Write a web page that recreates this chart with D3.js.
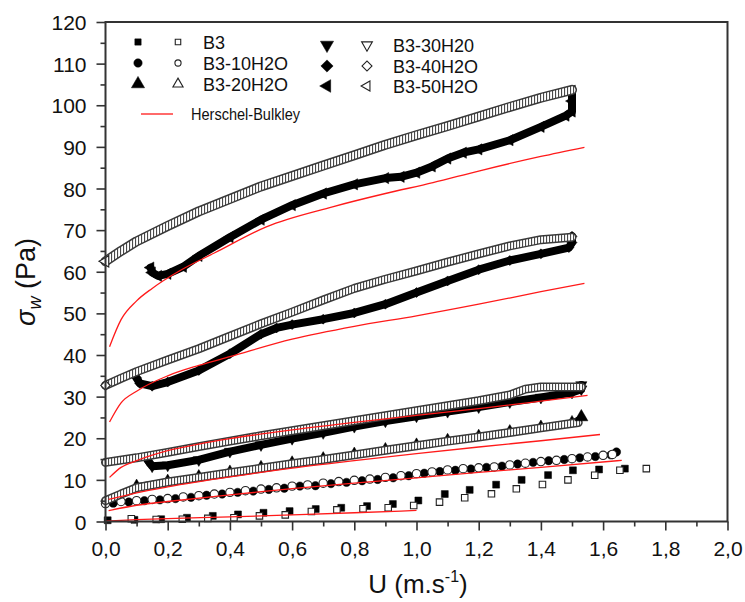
<!DOCTYPE html>
<html><head><meta charset="utf-8">
<script src="https://cdn.jsdelivr.net/npm/d3@7"></script>
<style>body{margin:0;background:#fff}svg{display:block}</style>
</head><body>
<svg id="c" width="745" height="602"></svg>
<script>
// ---------- data (U in m/s, sigma_w in Pa) ----------
const b3Filled = [[0.007,0.3],[0.093,0.4],[0.179,0.55],[0.262,0.9],[0.345,1.35],[0.426,1.7],[0.508,2.1],[0.592,2.5],[0.676,3.0],[0.758,3.3],[0.841,3.7],[0.924,4.2],[1.006,5.05],[1.091,6.6],[1.171,7.6],[1.256,8.85],[1.338,10.0],[1.423,11.15],[1.503,12.3],[1.587,12.5],[1.670,12.7]];
const b3Open = [[0.083,0.65],[0.163,0.5],[0.247,0.55],[0.329,0.75],[0.413,0.9],[0.495,1.35],[0.578,1.6],[0.662,2.4],[0.744,2.8],[0.828,3.05],[0.909,3.3],[0.991,3.85],[1.074,4.65],[1.155,5.7],[1.241,6.65],[1.321,7.85],[1.405,8.9],[1.487,10.0],[1.573,11.1],[1.654,12.3],[1.739,12.7]];
const b10Open = [[0.0,4.3],[0.05,4.8],[0.1,5.0],[0.15,5.3],[0.2,5.5],[0.25,5.9],[0.3,6.2],[0.35,6.6],[0.4,7.0],[0.45,7.4],[0.5,7.8],[0.55,8.1],[0.6,8.5],[0.65,8.8],[0.7,9.2],[0.75,9.6],[0.8,9.9],[0.85,10.2],[0.9,10.6],[0.95,11.0],[1.0,11.5],[1.05,11.9],[1.1,12.4],[1.15,12.7],[1.2,12.9],[1.25,13.1],[1.3,13.6],[1.35,14.0],[1.4,14.4],[1.45,14.7],[1.5,15.1],[1.55,15.5],[1.6,15.9],[1.63,16.1]];
const b10Filled = [[0.025,4.4],[0.075,4.7],[0.125,5.0],[0.175,5.2],[0.225,5.5],[0.275,5.8],[0.325,6.3],[0.375,6.6],[0.425,7.0],[0.475,7.3],[0.525,7.7],[0.575,8.0],[0.625,8.5],[0.675,8.6],[0.725,9.1],[0.775,9.4],[0.825,9.8],[0.875,10.1],[0.925,10.5],[0.975,11.0],[1.025,11.6],[1.075,12.0],[1.125,12.3],[1.175,12.6],[1.225,13.0],[1.275,13.3],[1.325,13.8],[1.375,14.2],[1.425,14.6],[1.475,14.9],[1.525,15.3],[1.575,15.6],[1.625,16.0],[1.643,16.7]];
const b20Filled = [[0.1,8.7],[0.2,9.9],[0.3,11.0],[0.4,12.1],[0.5,13.2],[0.6,14.3],[0.7,15.3],[0.8,16.4],[0.9,17.5],[1.0,18.6],[1.1,19.7],[1.2,20.7],[1.3,21.8],[1.4,22.9],[1.5,24.0],[1.53,25.1]];
const b20Open = [[0.0,5.0],[0.05,6.6],[0.1,8.1],[0.2,9.5],[0.3,10.6],[0.4,11.7],[0.5,12.8],[0.6,13.9],[0.7,14.9],[0.8,16.0],[0.9,17.1],[1.0,18.2],[1.1,19.3],[1.2,20.3],[1.3,21.4],[1.4,22.5],[1.52,23.8]];
const b30Filled = [[0.135,14.8],[0.15,13.3],[0.2,13.5],[0.3,14.8],[0.4,16.8],[0.5,18.4],[0.6,19.9],[0.7,21.3],[0.8,22.8],[0.9,24.1],[1.0,25.3],[1.1,26.4],[1.2,27.5],[1.3,28.7],[1.4,29.8],[1.5,31.0],[1.53,31.8],[1.53,32.8]];
const b30Open = [[0.0,14.2],[0.1,15.3],[0.2,16.6],[0.3,18.0],[0.4,19.3],[0.5,20.6],[0.6,21.8],[0.7,23.0],[0.8,24.2],[0.9,25.4],[1.0,26.6],[1.1,27.8],[1.2,29.0],[1.3,30.4],[1.35,31.8],[1.4,32.3],[1.53,32.3]];
const b40Filled = [[0.1,34.5],[0.11,33.2],[0.15,32.5],[0.2,33.5],[0.3,36.3],[0.4,40.3],[0.5,45.0],[0.55,46.5],[0.6,47.3],[0.7,48.6],[0.8,50.1],[0.9,52.2],[1.0,55.0],[1.1,57.8],[1.2,60.5],[1.3,62.7],[1.4,64.3],[1.49,65.8],[1.5,67.0],[1.5,68.5]];
const b40Open = [[0.0,32.7],[0.05,34.4],[0.1,36.0],[0.2,38.8],[0.3,41.5],[0.4,44.5],[0.5,47.5],[0.6,50.3],[0.7,53.2],[0.8,56.0],[0.9,58.2],[1.0,60.2],[1.1,62.3],[1.2,64.3],[1.3,66.2],[1.4,67.7],[1.5,68.3]];
const b50Filled = [[0.145,61.0],[0.15,59.8],[0.17,59.0],[0.2,59.5],[0.25,61.2],[0.3,63.8],[0.4,68.3],[0.5,72.5],[0.6,76.0],[0.7,78.8],[0.8,81.0],[0.9,82.5],[0.95,82.8],[1.0,83.8],[1.05,85.3],[1.1,87.2],[1.15,88.6],[1.2,89.4],[1.3,91.6],[1.4,94.8],[1.48,97.5],[1.5,98.5],[1.5,101.0],[1.5,103.5]];
const b50Open = [[0.0,62.5],[0.05,65.0],[0.1,67.3],[0.2,71.0],[0.3,74.5],[0.4,77.5],[0.5,80.5],[0.6,83.0],[0.7,85.5],[0.8,88.0],[0.9,90.5],[1.0,92.8],[1.1,95.0],[1.2,97.3],[1.3,99.6],[1.4,101.8],[1.5,103.7]];
// Herschel-Bulkley fit curves
const hbB3 = [[0.0,0.1],[0.1,0.45],[0.2,0.7],[0.4,1.1],[0.6,1.6],[0.8,2.1],[1.0,2.65]];
const hb10 = [[0.01,2.6],[0.1,3.9],[0.2,4.8],[0.4,6.4],[0.6,7.9],[0.8,9.2],[1.0,10.5],[1.2,11.8],[1.4,13.0],[1.66,14.7]];
const hb20 = [[0.01,5.3],[0.1,6.9],[0.2,8.3],[0.4,10.7],[0.6,12.8],[0.8,14.6],[1.0,16.3],[1.2,17.9],[1.4,19.4],[1.59,20.9]];
const hb30 = [[0.013,10.6],[0.05,13.0],[0.1,14.6],[0.2,17.0],[0.3,18.6],[0.4,19.9],[0.6,22.0],[0.8,23.8],[1.0,25.5],[1.2,27.1],[1.4,28.9],[1.55,30.3]];
const hb40 = [[0.013,23.9],[0.05,28.5],[0.1,31.3],[0.2,35.0],[0.3,37.5],[0.4,39.6],[0.6,43.8],[0.8,46.9],[1.0,49.4],[1.2,52.2],[1.4,55.2],[1.54,57.2]];
const hb50 = [[0.013,42.0],[0.05,48.5],[0.1,53.0],[0.15,56.0],[0.24,60.3],[0.35,64.5],[0.517,70.8],[0.73,75.6],[0.9,78.8],[1.053,81.4],[1.2,84.2],[1.4,87.7],[1.54,89.9]];
// axes & legend text
const xMajor = [0,0.2,0.4,0.6,0.8,1.0,1.2,1.4,1.6,1.8,2.0];
const xMinor = [0.1,0.3,0.5,0.7,0.9,1.1,1.3,1.5,1.7,1.9];
const yMajor = [0,10,20,30,40,50,60,70,80,90,100,110,120];
const yMinor = [5,15,25,35,45,55,65,75,85,95,105,115];
const legendCol1 = ["B3","B3-10H2O","B3-20H2O"];
const legendCol2 = ["B3-30H20","B3-40H2O","B3-50H2O"];
const fitName = "Herschel-Bulkley";

// ---------- drawing ----------
const FONT = "'Liberation Sans', Arial, sans-serif";
const svg = d3.select("#c");
const M = {l:105.5, r:727.5, t:22, b:521.5};
const x = d3.scaleLinear().domain([0,2]).range([M.l,M.r]);
const y = d3.scaleLinear().domain([0,120]).range([M.b,M.t]);

const defs = svg.append("defs");
const pat = defs.append("pattern").attr("id","hatch").attr("patternUnits","userSpaceOnUse")
  .attr("width",3).attr("height",10);
pat.append("rect").attr("width",3).attr("height",10).attr("fill","#fff");
pat.append("rect").attr("width",1.1).attr("height",10).attr("fill","#4a4a4a");

const shapes = {
  square:{t:d3.symbolSquare,r:0}, circle:{t:d3.symbolCircle,r:0},
  up:{t:d3.symbolTriangle,r:0}, down:{t:d3.symbolTriangle,r:180},
  diamond:{t:d3.symbolSquare,r:45}, left:{t:d3.symbolTriangle,r:-90}
};
function marker(g, px, py, shape, size, filled){
  const s = shapes[shape];
  g.append("path").attr("d", d3.symbol().type(s.t).size(size)())
    .attr("transform", `translate(${px},${py}) rotate(${s.r})`)
    .attr("fill", filled ? "#000" : "#fff")
    .attr("stroke", filled ? "#000" : "#222")
    .attr("stroke-width", filled ? 0.5 : 1.1);
}
function markers(g, data, shape, size, filled){
  data.forEach(d => marker(g, x(d[0]), y(d[1]), shape, size, filled));
}
const lin = d3.line().x(d=>x(d[0])).y(d=>y(d[1]));
function filledBand(g, data, w){
  g.append("path").attr("d", lin(data)).attr("fill","none").attr("stroke","#000")
   .attr("stroke-width", w).attr("stroke-linejoin","round").attr("stroke-linecap","round");
}
function openBand(g, data, w){
  g.append("path").attr("d", lin(data)).attr("fill","none").attr("stroke","#3a3a3a")
   .attr("stroke-width", w).attr("stroke-linejoin","round").attr("stroke-linecap","round");
  g.append("path").attr("d", lin(data)).attr("fill","none").attr("stroke","url(#hatch)")
   .attr("stroke-width", w-3).attr("stroke-linejoin","round").attr("stroke-linecap","round");
}

const gData = svg.append("g");
// B3 squares
markers(gData, b3Filled, "square", 48, true);
markers(gData, b3Open, "square", 42, false);
// B3-10H2O circles
markers(gData, b10Filled, "circle", 55, true);
markers(gData, b10Open, "circle", 55, false);
// B3-20H2O triangles
filledBand(gData, b20Filled, 4);
markers(gData, b20Filled, "up", 50, true);
openBand(gData, b20Open, 9);
marker(gData, x(b20Filled[b20Filled.length-1][0]), y(b20Filled[b20Filled.length-1][1]), "up", 75, true);
// B3-30H20 down triangles
filledBand(gData, b30Filled, 8);
markers(gData, b30Filled, "down", 55, true);
openBand(gData, b30Open, 9);
// B3-40H2O diamonds
filledBand(gData, b40Filled, 8);
markers(gData, b40Filled, "diamond", 50, true);
openBand(gData, b40Open, 9);
marker(gData, x(b40Open[0][0]), y(b40Open[0][1]), "diamond", 45, false);
// B3-50H2O left triangles
filledBand(gData, b50Filled, 8);
markers(gData, b50Filled, "left", 55, true);
openBand(gData, b50Open, 10);
marker(gData, x(b50Open[0][0]), y(b50Open[0][1]), "left", 55, false);

// fits
const curve = d3.line().curve(d3.curveMonotoneX).x(d=>x(d[0])).y(d=>y(d[1]));
[hbB3,hb10,hb20,hb30,hb40,hb50].forEach(f=>{
  svg.append("path").attr("d", curve(f)).attr("fill","none")
    .attr("stroke","#ff1a1a").attr("stroke-width",1.3);
});

// axes
const fmt = v => d3.format(".1f")(v).replace(".", ",");
const gx = svg.append("g").attr("transform",`translate(0,${M.b})`)
  .call(d3.axisBottom(x).tickValues(xMajor).tickSize(9).tickFormat(fmt));
const gxm = svg.append("g").attr("transform",`translate(0,${M.b})`)
  .call(d3.axisBottom(x).tickValues(xMinor).tickSize(5).tickFormat(""));
const gy = svg.append("g").attr("transform",`translate(${M.l},0)`)
  .call(d3.axisLeft(y).tickValues(yMajor).tickSize(9).tickFormat(d3.format("d")));
const gym = svg.append("g").attr("transform",`translate(${M.l},0)`)
  .call(d3.axisLeft(y).tickValues(yMinor).tickSize(5).tickFormat(""));
[gx,gxm,gy,gym].forEach(g=>{
  g.select(".domain").remove();
  g.selectAll(".tick line").attr("stroke","#333").attr("stroke-width",1.6);
  g.selectAll("text").attr("font-family",FONT).attr("font-size",21).attr("fill","#111");
});
gx.selectAll("text").attr("dy","1.05em");
gy.selectAll("text").attr("x",-19).attr("dy","0.36em");

svg.append("rect").attr("x",M.l).attr("y",M.t).attr("width",M.r-M.l).attr("height",M.b-M.t)
  .attr("fill","none").attr("stroke","#333").attr("stroke-width",2);

// axis titles
const xt = svg.append("text").attr("x",418).attr("y",593).attr("text-anchor","middle")
  .attr("font-family",FONT).attr("font-size",26).attr("fill","#111");
xt.append("tspan").text("U (m.s");
xt.append("tspan").attr("dy",-11).attr("font-size",16).text("-1");
xt.append("tspan").attr("dy",11).text(")");

const yt = svg.append("text").attr("transform","translate(35,282) rotate(-90)")
  .attr("text-anchor","middle").attr("font-family",FONT).attr("font-size",27).attr("fill","#111");
yt.append("tspan").attr("font-style","italic").text("σ");
yt.append("tspan").attr("font-style","italic").attr("font-size",18).attr("dy",6).text("w");
yt.append("tspan").attr("dy",-6).text(" (Pa)");

// legend
const lg = svg.append("g");
const col1Shapes = ["square","circle","up"], col2Shapes = ["down","diamond","left"];
const col1Y = [42,63,84], col2Y = [45,66,86];
const sizeF1 = [40,55,75], sizeO1 = [30,30,45];
const sizeF2 = [75,75,70], sizeO2 = [50,50,45];
legendCol1.forEach((t,i)=>{
  marker(lg, 138, col1Y[i], col1Shapes[i], sizeF1[i], true);
  marker(lg, 178, col1Y[i], col1Shapes[i], sizeO1[i], false);
  lg.append("text").attr("x",203).attr("y",col1Y[i]+6.5).attr("font-family",FONT)
    .attr("font-size",18).attr("fill","#111").text(t);
});
legendCol2.forEach((t,i)=>{
  marker(lg, 327, col2Y[i], col2Shapes[i], sizeF2[i], true);
  marker(lg, 367, col2Y[i], col2Shapes[i], sizeO2[i], false);
  lg.append("text").attr("x",393).attr("y",col2Y[i]+6.5).attr("font-family",FONT)
    .attr("font-size",18).attr("fill","#111").text(t);
});
lg.append("line").attr("x1",141).attr("x2",173).attr("y1",114).attr("y2",114)
  .attr("stroke","#ff1a1a").attr("stroke-width",1.3);
lg.append("text").attr("x",191).attr("y",120).attr("font-family",FONT).attr("font-size",17)
  .attr("textLength",109).attr("lengthAdjust","spacingAndGlyphs").attr("fill","#111").text(fitName);
</script>
</body></html>
